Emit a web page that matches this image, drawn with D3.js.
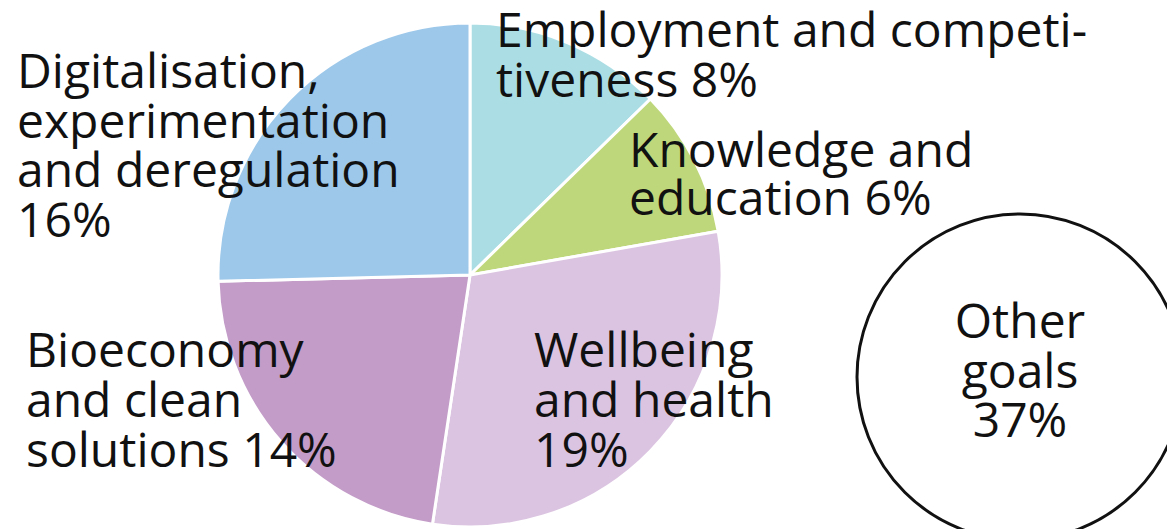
<!DOCTYPE html>
<html>
<head>
<meta charset="utf-8">
<script src="https://cdn.jsdelivr.net/npm/d3@7"></script>
<style>
  html, body { margin: 0; padding: 0; background: #fff; }
  svg { display: block; }
  text { font-family: "Open Sans", "Noto Sans", sans-serif; fill: #111; font-variant-ligatures: none; }
</style>
</head>
<body>
<svg id="chart" width="1167" height="529"></svg>
<script>
// Goal categories, clockwise from 12 o'clock
const categories = [
  "Employment and competitiveness",
  "Knowledge and education",
  "Wellbeing and health",
  "Bioeconomy and clean solutions",
  "Digitalisation, experimentation and deregulation"
];
const shares = [8, 6, 19, 14, 16];           // percent
const labelLines = [
  ["Employment and competi-", "tiveness 8%"],
  ["Knowledge and", "education 6%"],
  ["Wellbeing", "and health", "19%"],
  ["Bioeconomy", "and clean", "solutions 14%"],
  ["Digitalisation,", "experimentation", "and deregulation", "16%"]
];
const otherName = "Other goals";
const otherShare = 37;
const otherLines = ["Other", "goals", "37%"];

const sliceColors = ["#abdee4", "#bfd77b", "#dbc4e1", "#c39cc8", "#9dc8ea"];

const svg = d3.select("#chart");

// Pie of the goals with their own budget share
const cx = 470, cy = 275, R = 252;
const pie = d3.pie().sort(null).value(d => d.value);
const arcs = pie(categories.map((c, i) => ({ name: c, value: shares[i] })));
const arc = d3.arc().innerRadius(0).outerRadius(R);

const g = svg.append("g").attr("transform", `translate(${cx},${cy})`);
g.selectAll("path")
  .data(arcs)
  .join("path")
  .attr("d", arc)
  .attr("fill", (d, i) => sliceColors[i])
  .attr("stroke", "#fff")
  .attr("stroke-width", 3)
  .attr("stroke-linejoin", "round");

// Label anchor for each slice (left x, first baseline, line step)
const labelPos = [
  { x: 496, y: 47, step: 50 },
  { x: 629, y: 167, step: 48 },
  { x: 534, y: 367, step: 50 },
  { x: 26, y: 367, step: 50 },
  { x: 17, y: 88, step: 49.7 }
];
const fontSize = 48;

labelLines.forEach((lines, i) => {
  const p = labelPos[i];
  lines.forEach((ln, j) => {
    svg.append("text")
      .attr("x", p.x).attr("y", p.y + j * p.step)
      .attr("font-size", fontSize)
      .text(ln);
  });
});

// Separate circle for the remaining share
const ocx = 1020, ocy = 377, oR = 163;
svg.append("circle")
  .attr("cx", ocx).attr("cy", ocy).attr("r", oR)
  .attr("fill", "#fff")
  .attr("stroke", "#111")
  .attr("stroke-width", 3);

otherLines.forEach((ln, j) => {
  svg.append("text")
    .attr("x", ocx).attr("y", 338 + j * 49.5)
    .attr("text-anchor", "middle")
    .attr("font-size", fontSize)
    .text(ln);
});
</script>
</body>
</html>
